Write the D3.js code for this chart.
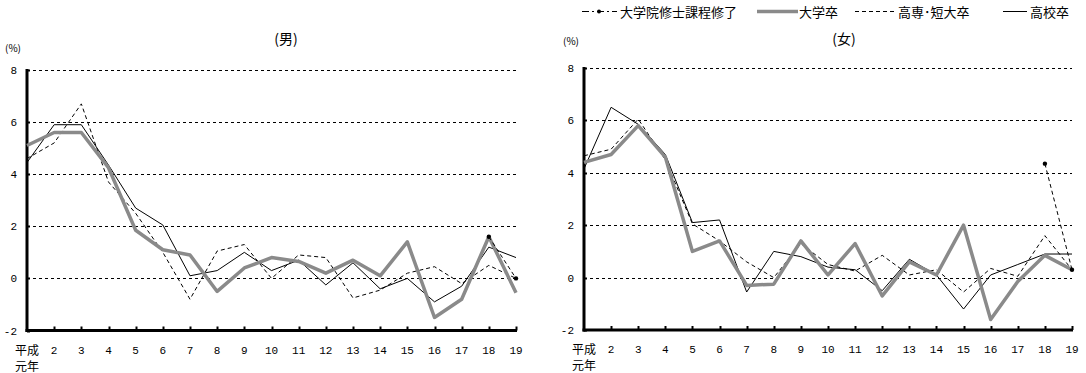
<!DOCTYPE html>
<html><head><meta charset="utf-8">
<script src="https://cdn.jsdelivr.net/npm/d3@7"></script>
<style>
body{margin:0;background:#fff;}
svg{display:block;}
text{font-family:"Noto Sans CJK JP","Noto Sans",sans-serif;fill:#000;}
.num{font-family:"Liberation Mono","DejaVu Sans Mono",monospace;font-size:11px;}
</style></head>
<body><svg id="c" width="1086" height="373"></svg>
<script>
const years = d3.range(1, 20);
const yearLabels = ["平成元年","2","3","4","5","6","7","8","9","10","11","12","13","14","15","16","17","18","19"];
const yTicks = [-2, 0, 2, 4, 6, 8];
const seriesNames = ["大学院修士課程修了","大学卒","高専･短大卒","高校卒"];

// 男
const maleGrad = [null,null,null,null,null,null,null,null,null,null,null,null,null,null,null,null,null,1.6,0.0];
const maleUniv = [5.1,5.6,5.6,4.25,1.85,1.1,0.9,-0.5,0.4,0.8,0.65,0.2,0.7,0.1,1.4,-1.5,-0.8,1.6,-0.55];
const maleJC   = [4.6,5.2,6.7,3.7,2.5,1.0,-0.8,1.05,1.3,0.0,0.9,0.8,-0.75,-0.45,0.2,0.45,-0.2,0.5,0.0];
const maleHS   = [4.45,5.9,5.9,4.35,2.7,2.05,0.1,0.3,1.0,0.3,0.7,-0.25,0.6,-0.4,0.0,-0.9,-0.3,1.2,0.8];
// 女
const femaleGrad = [null,null,null,null,null,null,null,null,null,null,null,null,null,null,null,null,null,4.35,0.3];
const femaleUniv = [4.4,4.7,5.8,4.6,1.0,1.4,-0.3,-0.25,1.4,0.1,1.3,-0.7,0.6,0.1,2.0,-1.6,-0.15,0.85,0.3];
const femaleJC   = [4.65,4.9,6.05,4.5,2.05,1.4,0.6,0.0,1.3,0.5,0.25,0.85,0.1,0.3,-0.55,0.35,0.05,1.6,0.3];
const femaleHS   = [4.15,6.5,5.85,4.7,2.1,2.2,-0.55,1.0,0.8,0.4,0.3,-0.5,0.7,0.1,-1.2,0.1,0.5,0.9,0.9];

const svg = d3.select("#c");

function panel(cfg){
  const g = svg.append("g");
  const x = d3.scaleLinear().domain([1,19]).range([cfg.x0, cfg.x1]);
  const y = d3.scaleLinear().domain([-2,8]).range([cfg.yb, cfg.yt]);
  // grid
  g.selectAll("line.grid").data(yTicks.filter(v=>v>-2)).join("line")
    .attr("x1", cfg.x0).attr("x2", cfg.x1)
    .attr("y1", d=>Math.round(y(d))+0.5).attr("y2", d=>Math.round(y(d))+0.5)
    .attr("stroke","#000").attr("stroke-width",1).attr("stroke-dasharray","3,3");
  // y ticks & labels
  g.selectAll("line.yt").data(yTicks).join("line")
    .attr("x1", cfg.x0).attr("x2", cfg.x0+3)
    .attr("y1", d=>Math.round(y(d))+0.5).attr("y2", d=>Math.round(y(d))+0.5)
    .attr("stroke","#000").attr("stroke-width",2);
  g.selectAll("text.yl").data(yTicks).join("text").attr("class","num")
    .attr("x", cfg.x0-10).attr("y", d=>y(d)+4).attr("text-anchor","end")
    .text(d=>d);
  // x ticks
  g.selectAll("line.xt").data(years.slice(1)).join("line")
    .attr("x1", d=>Math.round(x(d))+0.5).attr("x2", d=>Math.round(x(d))+0.5)
    .attr("y1", cfg.yb).attr("y2", cfg.yb-4)
    .attr("stroke","#000").attr("stroke-width",2);
  // axes
  g.append("line").attr("x1",cfg.x0).attr("x2",cfg.x0).attr("y1",y(8)-1).attr("y2",cfg.yb+1.5)
    .attr("stroke","#000").attr("stroke-width",3);
  g.append("line").attr("x1",cfg.x0-1.5).attr("x2",cfg.x1+1).attr("y1",cfg.yb).attr("y2",cfg.yb)
    .attr("stroke","#000").attr("stroke-width",3);
  // x labels
  years.forEach((yr,i)=>{
    if(i===0){
      g.append("text").attr("x",x(yr)).attr("y",cfg.yb+24).attr("text-anchor","middle")
        .style("font-size","12px").text(yearLabels[0].slice(0,2));
      g.append("text").attr("x",x(yr)).attr("y",cfg.yb+40).attr("text-anchor","middle")
        .style("font-size","12px").text(yearLabels[0].slice(2));
    } else {
      g.append("text").attr("class","num").attr("x",x(yr)).attr("y",cfg.yb+23)
        .attr("text-anchor","middle").text(yearLabels[i]);
    }
  });
  // (%) and title
  g.append("text").attr("x",cfg.pctX).attr("y",cfg.pctY).style("font-size","10px").text("(%)");
  g.append("text").attr("x",cfg.titleX).attr("y",44).attr("text-anchor","middle")
    .style("font-size","14px").text(cfg.title);

  const line = d3.line().defined(d=>d[1]!=null).x(d=>x(d[0])).y(d=>y(d[1]));
  const pts = arr => years.map((yr,i)=>[yr,arr[i]]);
  g.append("path").attr("d",line(pts(cfg.jc))).attr("fill","none")
    .attr("stroke","#000").attr("stroke-width",1).attr("stroke-dasharray","4,3");
  g.append("path").attr("d",line(pts(cfg.hs))).attr("fill","none")
    .attr("stroke","#000").attr("stroke-width",1);
  g.append("path").attr("d",line(pts(cfg.univ))).attr("fill","none")
    .attr("stroke","#8a8a8a").attr("stroke-width",3.5).attr("stroke-linejoin","round");
  g.append("path").attr("d",line(pts(cfg.grad))).attr("fill","none")
    .attr("stroke","#000").attr("stroke-width",1).attr("stroke-dasharray","4,3");
  g.selectAll("circle.gd").data(pts(cfg.grad).filter(d=>d[1]!=null)).join("circle")
    .attr("cx",d=>x(d[0])).attr("cy",d=>y(d[1])).attr("r",2.2).attr("fill","#000");
}

panel({x0:27, x1:516, yt:70, yb:330.5, title:"(男)", titleX:286, pctX:5, pctY:52,
  grad:maleGrad, univ:maleUniv, jc:maleJC, hs:maleHS});
panel({x0:584, x1:1072, yt:68, yb:330, title:"(女)", titleX:844, pctX:563, pctY:45,
  grad:femaleGrad, univ:femaleUniv, jc:femaleJC, hs:femaleHS});

// legend
const lg = svg.append("g");
const ly = 11.5;
lg.append("line").attr("x1",582).attr("x2",617).attr("y1",ly).attr("y2",ly)
  .attr("stroke","#000").attr("stroke-width",1).attr("stroke-dasharray","7,3,2,3");
lg.append("circle").attr("cx",599).attr("cy",ly).attr("r",2).attr("fill","#000");
lg.append("text").attr("x",620).attr("y",ly+5).style("font-size","13px").text(seriesNames[0]);
lg.append("line").attr("x1",757).attr("x2",798).attr("y1",ly).attr("y2",ly)
  .attr("stroke","#8a8a8a").attr("stroke-width",3.5);
lg.append("text").attr("x",799).attr("y",ly+5).style("font-size","13px").text(seriesNames[1]);
lg.append("line").attr("x1",855).attr("x2",895).attr("y1",ly).attr("y2",ly)
  .attr("stroke","#000").attr("stroke-width",1).attr("stroke-dasharray","4,3");
lg.append("text").attr("x",898).attr("y",ly+5).style("font-size","13px").text(seriesNames[2]);
lg.append("line").attr("x1",1003).attr("x2",1027).attr("y1",ly).attr("y2",ly)
  .attr("stroke","#000").attr("stroke-width",1);
lg.append("text").attr("x",1030).attr("y",ly+5).style("font-size","13px").text(seriesNames[3]);
</script>
</body></html>
